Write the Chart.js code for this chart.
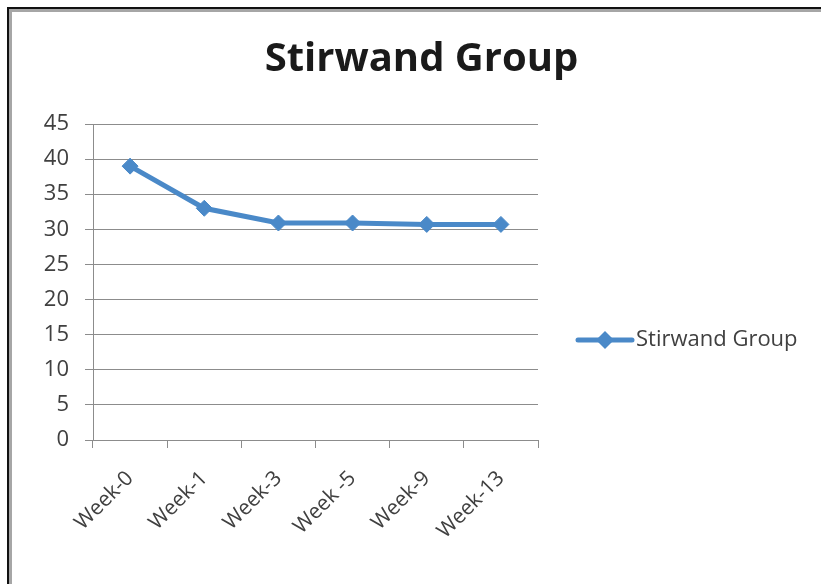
<!DOCTYPE html>
<html>
<head>
  <title>Stirwand Group</title>
  <script src="https://cdn.jsdelivr.net/npm/chart.js"></script>
  <style>
    body {
      margin: 0;
      background: #ffffff;
      font-family: "Open Sans", sans-serif;
    }
    .wrap {
      position: relative;
      width: 821px;
      height: 584px;
    }
    /* frame round the chart: dark edge with a grey inner band, top and left only */
    .frame {
      position: absolute;
      left: 7px;
      top: 7px;
      right: 0;
      bottom: 0;
      border-top: 2px solid #111111;
      border-left: 2px solid #111111;
      pointer-events: none;
    }
    .frame::after {
      content: "";
      position: absolute;
      left: 0;
      top: 0;
      right: 0;
      bottom: 0;
      border-top: 3px solid #a6a6a6;
      border-left: 3px solid #a6a6a6;
    }
    canvas {
      position: absolute;
      left: 0;
      top: 0;
    }
  </style>
</head>
<body>
  <div class="wrap">
    <canvas id="chart" width="821" height="584"></canvas>
    <div class="frame"></div>
  </div>

  <script>
    // data
    const weeks = ['Week-0', 'Week-1', 'Week-3', 'Week -5', 'Week-9', 'Week-13'];
    const stirwand = [39, 33, 30.9, 30.9, 30.7, 30.7];
    const yMin = 0;
    const yMax = 45;
    const yStep = 5;
    const seriesName = 'Stirwand Group';

    const blue = '#4a89c8';
    const gridGrey = '#8c8c8c';
    const textGrey = '#404040';
    const fontFamily = '"Open Sans", sans-serif';

    // legend on the right, drawn like the Excel one: line with a diamond, then the name
    const sideLegend = {
      id: 'sideLegend',
      afterDraw(chart) {
        const c = chart.ctx;
        const area = chart.chartArea;
        const x0 = area.right + 40;
        const y = (area.top + chart.height - 28) / 2;
        c.save();
        c.strokeStyle = blue;
        c.lineWidth = 5;
        c.lineCap = 'round';
        c.beginPath();
        c.moveTo(x0, y);
        c.lineTo(x0 + 54, y);
        c.stroke();
        c.fillStyle = blue;
        c.beginPath();
        c.moveTo(x0 + 27, y - 9);
        c.lineTo(x0 + 36, y);
        c.lineTo(x0 + 27, y + 9);
        c.lineTo(x0 + 18, y);
        c.closePath();
        c.fill();
        c.fillStyle = textGrey;
        c.font = '22px ' + fontFamily;
        c.textAlign = 'left';
        c.textBaseline = 'middle';
        c.fillText(seriesName, x0 + 58, y);
        c.restore();
      }
    };

    const ctx = document.getElementById('chart').getContext('2d');
    const chart = new Chart(ctx, {
      type: 'line',
      data: {
        labels: weeks,
        datasets: [{
          label: seriesName,
          data: stirwand,
          borderColor: blue,
          backgroundColor: blue,
          borderWidth: 5,
          pointStyle: 'rectRot',
          pointRadius: 8,
          pointBorderWidth: 1,
          pointBackgroundColor: blue,
          pointBorderColor: blue,
          tension: 0,
          fill: false
        }]
      },
      options: {
        responsive: false,
        animation: false,
        layout: {
          padding: { left: 22, right: 0, top: 0, bottom: 28 }
        },
        plugins: {
          title: {
            display: true,
            text: seriesName,
            color: '#1a1a1a',
            font: { family: fontFamily, size: 40, weight: 'bold' },
            padding: { top: 36, bottom: 40 }
          },
          legend: { display: false },
          tooltip: { enabled: false }
        },
        scales: {
          x: {
            type: 'category',
            offset: true,
            afterFit: scale => { scale.height = 116; },
            border: { color: gridGrey, width: 1 },
            grid: {
              offset: true,
              drawOnChartArea: false,
              drawTicks: true,
              tickLength: 8,
              color: gridGrey
            },
            ticks: {
              minRotation: 45,
              maxRotation: 45,
              autoSkip: false,
              padding: 18,
              color: textGrey,
              font: { family: fontFamily, size: 21 }
            }
          },
          y: {
            min: yMin,
            max: yMax,
            afterFit: scale => { scale.width = 71; },
            border: { color: gridGrey, width: 1 },
            grid: {
              color: gridGrey,
              tickLength: 8
            },
            ticks: {
              stepSize: yStep,
              padding: 16,
              color: textGrey,
              font: { family: fontFamily, size: 22 }
            }
          },
          // empty right-hand band that holds the legend, keeps the title centred on the whole frame
          side: {
            type: 'linear',
            position: 'right',
            display: true,
            afterFit: scale => { scale.width = 283; },
            grid: { display: false },
            border: { display: false },
            ticks: { display: false }
          }
        }
      },
      plugins: [sideLegend]
    });
  </script>
</body>
</html>
